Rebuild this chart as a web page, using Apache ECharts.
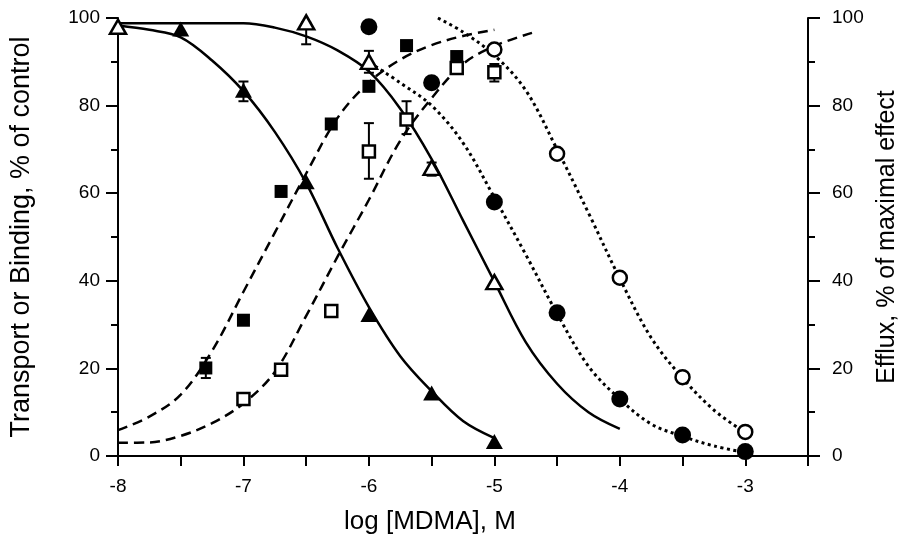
<!DOCTYPE html>
<html>
<head>
<meta charset="utf-8">
<script src="https://cdn.jsdelivr.net/npm/echarts@6/dist/echarts.min.js"></script>
<style>
html,body{margin:0;padding:0;background:#fff;}
#chart{width:898px;height:541px;}
</style>
</head>
<body>
<div id="chart"></div>
<script>
// measured points
var triFillX = [-7.5, -7, -6.5, -6, -5.5, -5];
var triFillY = [97.5, 83.5, 62.6, 32.3, 14.4, 3.3];
var triOpenX = [-8, -6.5, -6, -5.5, -5];
var triOpenY = [98, 99, 90, 65.8, 39.7];
var sqFillX = [-7.3, -7, -6.7, -6.3, -6, -5.7, -5.3];
var sqFillY = [20.1, 31, 60.4, 75.8, 84.4, 93.7, 91.2];
var sqOpenX = [-7, -6.7, -6.3, -6, -5.7, -5.3, -5];
var sqOpenY = [13, 19.7, 33.1, 69.5, 76.8, 88.6, 87.6];
var circFillX = [-6, -5.5, -5, -4.5, -4, -3.5, -3];
var circFillY = [98, 85.2, 58, 32.7, 13, 4.8, 1];
var circOpenX = [-5, -4.5, -4, -3.5, -3];
var circOpenY = [92.8, 69, 40.7, 18, 5.5];

// error bars
var errX = [-7, -6.5, -6, -5.5, -7.3, -6, -5.7, -5];
var errLow = [81, 94, 87.5, 64, 17.8, 63.3, 73.5, 85.5];
var errHigh = [85.5, 99, 92.5, 67, 22.4, 76, 81, 89.5];

// fitted curves
var curveAX = [-8, -7.75, -7.5, -7.25, -7, -6.75, -6.5, -6.25, -6, -5.75, -5.5, -5.25, -5];
var curveAY = [98.3, 97.3, 95.6, 90.3, 83.3, 74, 62.3, 47.5, 34, 22.8, 14.8, 8, 4.1];
var curveBX = [-8, -7.5, -7, -6.75, -6.5, -6.25, -6, -5.75, -5.5, -5.25, -5, -4.75, -4.5, -4.25, -4];
var curveBY = [98.8, 98.8, 98.8, 97.8, 95.8, 92.6, 87.8, 79.3, 67.8, 53.8, 39.8, 26, 16.5, 10, 6.2];
var curveCX = [-8, -7.75, -7.5, -7.25, -7, -6.75, -6.5, -6.25, -6, -5.75, -5.5, -5.25, -5];
var curveCY = [5.9, 9, 14, 24, 37.5, 51, 64.5, 77.2, 85.3, 90.5, 93.8, 95.9, 97.3];
var curveDX = [-8, -7.75, -7.5, -7.25, -7, -6.75, -6.5, -6.25, -6, -5.75, -5.5, -5.25, -5, -4.7];
var curveDY = [3, 3.1, 4.6, 7.5, 12, 19.2, 32, 45.5, 58.5, 72, 81.7, 89.5, 93.6, 96.6];
var curveEX = [-5.95, -5.75, -5.5, -5.25, -5, -4.75, -4.5, -4.25, -4, -3.75, -3.5, -3.25, -3];
var curveEY = [89, 85.2, 80, 71.5, 59, 46, 32.5, 20.5, 13, 7.3, 4.5, 2.3, 0.8];
var curveFX = [-5.45, -5.25, -5, -4.75, -4.5, -4.25, -4, -3.75, -3.5, -3.25, -3];
var curveFY = [100, 96.8, 91.5, 83.5, 70, 55.5, 40.5, 27, 17.8, 10.5, 5.3];

var xTicks = [-8, -7, -6, -5, -4, -3];

function pairs(xs, ys){
	return xs.map(function(x, i){ return [x, ys[i]]; });
}

var chart = echarts.init(document.getElementById('chart'));
var font = 'Liberation Sans';

function yAxisOpt(pos, name, gap, margin, nameSize){
	return {
		type:'value', position:pos, min:0, max:100, interval:20,
		name:name, nameLocation:'middle', nameGap:gap, nameRotate:90,
		nameTextStyle:{fontFamily:font, fontSize:nameSize, color:'#000'},
		axisLine:{show:true, lineStyle:{color:'#000', width:2}},
		axisTick:{show:true, length:12, lineStyle:{color:'#000', width:2}},
		minorTick:{show:true, splitNumber:2, length:7, lineStyle:{color:'#000', width:2}},
		axisLabel:{fontFamily:font, fontSize:19, color:'#000', margin:margin},
		splitLine:{show:false}
	};
}

function lineSeries(xs, ys, type, yIdx){
	return {
		type:'line', data:pairs(xs, ys), yAxisIndex:yIdx || 0,
		smooth:0.35, showSymbol:false, silent:true,
		lineStyle:{color:'#000', width:type === 'dotted' ? 3 : 2.5,
			type: type === 'dashed' ? [10, 6] : (type === 'dotted' ? [3, 3.5] : 'solid')},
		z:2
	};
}

function markSeries(xs, ys, symbol, size, open, yIdx){
	return {
		type:'scatter', data:pairs(xs, ys), yAxisIndex:yIdx || 0,
		symbol:symbol, symbolSize:size,
		itemStyle: open ? {color:'#fff', borderColor:'#000', borderWidth:2.5, opacity:1}
			: {color:'#000', opacity:1},
		z:5
	};
}

chart.setOption({
	animation:false,
	grid:{left:118, right:90, top:18, bottom:85, containLabel:false, outerBoundsMode:'none'},
	xAxis:{
		type:'value', min:-8, max:-2.5, interval:0.5,
		axisLine:{lineStyle:{color:'#000', width:2}},
		axisTick:{length:10, lineStyle:{color:'#000', width:2}},
		axisLabel:{
			fontFamily:font, fontSize:19, color:'#000', margin:21,
			formatter:function(v){ return xTicks.indexOf(v) >= 0 ? String(v) : ''; }
		},
		splitLine:{show:false}
	},
	yAxis:[
		yAxisOpt('left', 'Transport or Binding, % of control', 83, 18, 27),
		yAxisOpt('right', 'Efflux, % of maximal effect', 66, 24, 25)
	],
	graphic:[{
		type:'text', left:344, top:509,
		style:{text:'log [MDMA], M', font:'26px "Liberation Sans"', fill:'#000'}
	}],
	series:[
		lineSeries(curveAX, curveAY, 'solid'),
		lineSeries(curveBX, curveBY, 'solid'),
		lineSeries(curveCX, curveCY, 'dashed'),
		lineSeries(curveDX, curveDY, 'dashed'),
		lineSeries(curveEX, curveEY, 'dotted', 1),
		lineSeries(curveFX, curveFY, 'dotted', 1),
		{
			type:'custom', z:3, silent:true,
			data:errX.map(function(x, i){ return [x, errLow[i], errHigh[i]]; }),
			renderItem:function(params, api){
				var top = api.coord([api.value(0), api.value(2)]);
				var bot = api.coord([api.value(0), api.value(1)]);
				var st = {stroke:'#000', lineWidth:2};
				return {type:'group', children:[
					{type:'line', shape:{x1:top[0], y1:top[1], x2:bot[0], y2:bot[1]}, style:st},
					{type:'line', shape:{x1:top[0]-5, y1:top[1], x2:top[0]+5, y2:top[1]}, style:st},
					{type:'line', shape:{x1:bot[0]-5, y1:bot[1], x2:bot[0]+5, y2:bot[1]}, style:st}
				]};
			}
		},
		markSeries(triFillX, triFillY, 'triangle', [17, 15], false),
		markSeries(triOpenX, triOpenY, 'triangle', [16, 14], true),
		markSeries(sqFillX, sqFillY, 'rect', 13, false),
		markSeries(sqOpenX, sqOpenY, 'rect', 12, true),
		markSeries(circFillX, circFillY, 'circle', 17, false, 1),
		markSeries(circOpenX, circOpenY, 'circle', 14, true, 1)
	]
});
</script>
</body>
</html>
